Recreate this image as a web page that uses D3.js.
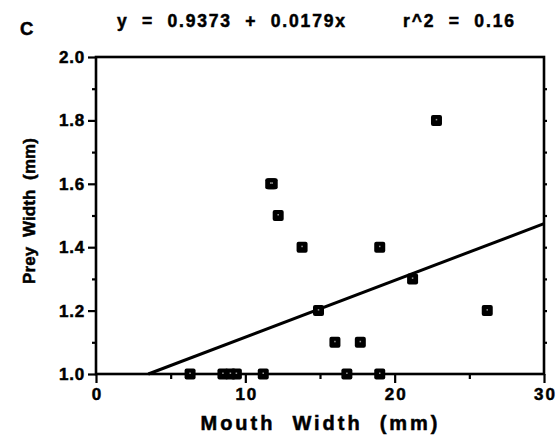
<!DOCTYPE html>
<html>
<head>
<meta charset="utf-8">
<script src="https://cdn.jsdelivr.net/npm/d3@7/dist/d3.min.js"></script>
<style>
  html, body { margin: 0; padding: 0; background: #fff; }
  svg { display: block; font-family: "Liberation Sans", Arial, Helvetica, sans-serif; font-weight: bold; }
  svg text { stroke: #000; stroke-width: 0.5px; fill: #000; }
</style>
</head>
<body>
<svg id="chart" width="558" height="440"></svg>
<script>
// Mouth width (mm) vs prey width (mm)
const mouthWidth = [6.3, 8.5, 9.0, 9.4, 11.2, 16.8, 19.0, 11.7, 11.8, 12.2, 13.8, 19.0, 14.9, 16.0, 17.7, 21.2, 22.8, 26.2];
const preyWidth  = [1.0, 1.0, 1.0, 1.0, 1.0, 1.0, 1.0, 1.6, 1.6, 1.5, 1.4, 1.4, 1.2, 1.1, 1.1, 1.3, 1.8, 1.2];

// Fitted regression: y = a + b x
const intercept = 0.9373;
const slope = 0.0179;
const r2 = 0.16;

const xMajorTicks = [0, 10, 20, 30];
const xMinorTicks = [5, 15, 25];
const yMajorTicks = [1.0, 1.2, 1.4, 1.6, 1.8, 2.0];
const yMinorTicks = [1.1, 1.3, 1.5, 1.7, 1.9];

const svg = d3.select("#chart");
const plotLeft = 96, plotRight = 544, plotTop = 57, plotBottom = 374;

const x = d3.scaleLinear().domain([0, 30]).range([plotLeft, plotRight]);
const y = d3.scaleLinear().domain([1.0, 2.0]).range([plotBottom, plotTop]);

// Panel letter and equation header
svg.append("text").attr("x", 20).attr("y", 35).attr("font-size", 18.5).text("C");
svg.append("text").attr("x", 117).attr("y", 27).attr("font-size", 17.5)
  .attr("xml:space", "preserve")
  .attr("textLength", 228).attr("lengthAdjust", "spacing")
  .text(`y  =  ${intercept.toFixed(4)}  +  ${slope.toFixed(4)}x`);
svg.append("text").attr("x", 403).attr("y", 27).attr("font-size", 17.5)
  .attr("xml:space", "preserve")
  .attr("textLength", 111).attr("lengthAdjust", "spacing")
  .text(`r^2  =  ${r2.toFixed(2)}`);

// Axes (left with outward ticks, bottom with outward ticks)
const yAxis = svg.append("g").attr("transform", `translate(${plotLeft},0)`)
  .call(d3.axisLeft(y).tickValues(yMajorTicks).tickFormat(d3.format(".1f")).tickSizeOuter(0).tickSize(8).tickPadding(3));
const yMinor = svg.append("g").attr("transform", `translate(${plotLeft},0)`)
  .call(d3.axisLeft(y).tickValues(yMinorTicks).tickFormat("").tickSizeOuter(0).tickSize(4));
const yRight = svg.append("g").attr("transform", `translate(${plotRight},0)`)
  .call(d3.axisLeft(y).tickValues(yMinorTicks.concat(yMajorTicks.slice(1, -1))).tickFormat("").tickSizeOuter(0).tickSize(-3));
const xAxis = svg.append("g").attr("transform", `translate(0,${plotBottom})`)
  .call(d3.axisBottom(x).tickValues(xMajorTicks).tickFormat(d3.format("d")).tickSizeOuter(0).tickSize(9).tickPadding(5));
const xMinor = svg.append("g").attr("transform", `translate(0,${plotBottom})`)
  .call(d3.axisBottom(x).tickValues(xMinorTicks).tickFormat("").tickSizeOuter(0).tickSize(5));

[yAxis, yMinor, yRight, xAxis, xMinor].forEach(g => {
  g.select(".domain").remove();
  g.selectAll(".tick line").attr("stroke", "#000").attr("stroke-width", 2.2);
  g.selectAll(".tick text").attr("fill", "#000").attr("font-size", 17)
    .attr("font-family", "'Liberation Sans', Arial, sans-serif").attr("font-weight", "bold");
});
xAxis.selectAll(".tick text").attr("letter-spacing", 2).attr("dx", 1);
yAxis.selectAll(".tick text").attr("letter-spacing", 0.8);

// Plot frame
svg.append("rect")
  .attr("x", plotLeft).attr("y", plotTop)
  .attr("width", plotRight - plotLeft).attr("height", plotBottom - plotTop)
  .attr("fill", "none").attr("stroke", "#000").attr("stroke-width", 2.6);

// Regression line over the visible y range
const xStart = (1.0 - intercept) / slope;
svg.append("line")
  .attr("x1", x(xStart)).attr("y1", y(1.0))
  .attr("x2", x(30)).attr("y2", y(intercept + slope * 30))
  .attr("stroke", "#000").attr("stroke-width", 3);

// Data points
const pts = mouthWidth.map((m, i) => ({ m, p: preyWidth[i] }));
const s = 11;
svg.append("g").selectAll("rect").data(pts).join("rect")
  .attr("x", d => x(d.m) - s / 2).attr("y", d => y(d.p) - s / 2)
  .attr("width", s).attr("height", s).attr("rx", 2)
  .attr("fill", "#000");
svg.append("g").selectAll("rect").data(pts).join("rect")
  .attr("x", d => x(d.m) - 0.75).attr("y", d => y(d.p) - 1.5)
  .attr("width", 1.5).attr("height", 1.5)
  .attr("fill", "#fff").attr("opacity", 0.6);

// Axis titles
svg.append("text").attr("x", 319).attr("y", 430).attr("font-size", 20)
  .attr("text-anchor", "middle").attr("xml:space", "preserve")
  .attr("textLength", 237).attr("lengthAdjust", "spacing")
  .text("Mouth  Width  (mm)");
svg.append("text")
  .attr("transform", "translate(35,211) rotate(-90)")
  .attr("font-size", 17).attr("text-anchor", "middle").attr("xml:space", "preserve")
  .attr("textLength", 146).attr("lengthAdjust", "spacing")
  .text("Prey  Width  (mm)");
</script>
</body>
</html>
